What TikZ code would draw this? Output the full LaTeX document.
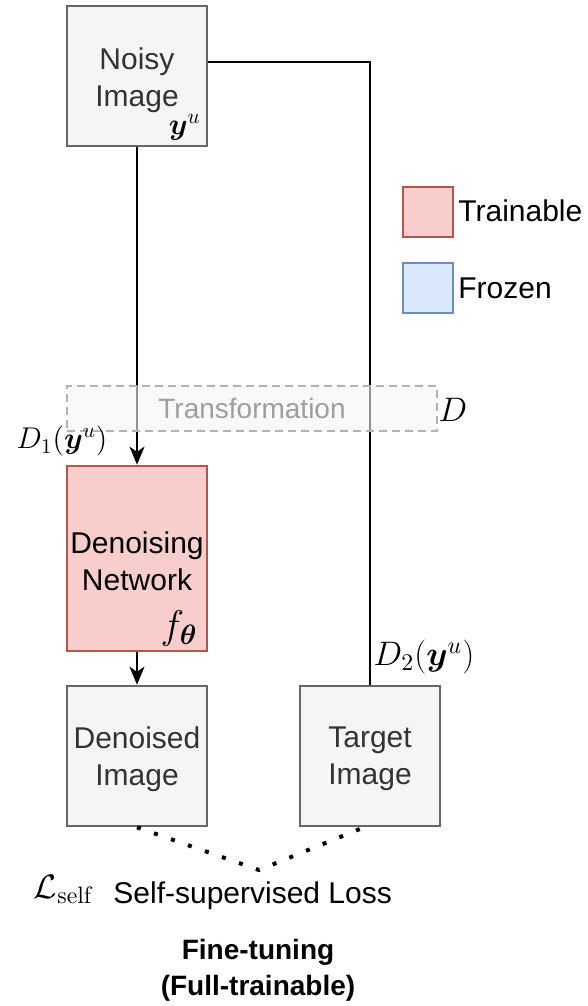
\RequirePackage{fix-cm}
\documentclass[tikz,border=0pt]{standalone}
\usepackage{amsmath}
\usepackage{bm}
\usepackage[no-math]{fontspec}
\setmainfont{Liberation Sans}
\usetikzlibrary{arrows.meta}

\definecolor{boxfill}{HTML}{F5F5F5}
\definecolor{boxline}{HTML}{666666}
\definecolor{boxtext}{HTML}{333333}
\definecolor{redfill}{HTML}{F8CECC}
\definecolor{redline}{HTML}{B85450}
\definecolor{bluefill}{HTML}{DAE8FC}
\definecolor{blueline}{HTML}{6C8EBF}
\definecolor{dashline}{HTML}{B3B3B3}
\definecolor{fadetext}{HTML}{9E9E9E}

\tikzset{
  txt/.style={font=\fontsize{15}{18.5}\selectfont, align=center, inner sep=0pt},
  imgbox/.style={draw=boxline, fill=boxfill, line width=1.3pt,
                 minimum width=70pt, minimum height=70pt, inner sep=0pt},
  netbox/.style={draw=redline, fill=redfill, line width=1.3pt,
                 minimum width=70pt, minimum height=92.5pt, inner sep=0pt},
  keybox/.style={draw=#1line, fill=#1fill, line width=1.3pt, minimum width=25pt,
                 minimum height=25pt, inner sep=0pt},
  conn/.style={line width=1pt, draw=black},
  arr/.style={conn, -{Stealth[length=9pt,width=7.5pt,inset=2.5pt]}},
  mathlbl/.style={inner sep=0pt, font=\fontsize{#1}{#1}\selectfont},
  mathlbl/.default=15,
}

\begin{document}
\begin{tikzpicture}[x=0.5pt, y=-0.5pt]
\useasboundingbox (0,0) rectangle (588,1006);

% image blocks (text set slightly below the centre)
\node[imgbox] (noisy) at (137,76) {};
\node[txt, text=boxtext] (noisytxt) at ([yshift=-2pt]noisy.center) {Noisy\\Image};
\node[netbox] (denoise) at (137,558.5) {};
\node[txt, text=black] (denoisetxt) at ([yshift=-1.5pt]denoise.center) {Denoising\\Network};
\node[imgbox] (denoised) at (137,756) {};
\node[txt, text=boxtext] (denoisedtxt) at ([yshift=-1.5pt]denoised.center) {Denoised\\Image};
\node[imgbox] (target) at (370,756) {};
\node[txt, text=boxtext] (targettxt) at ([yshift=-1.5pt]target.center) {Target\\Image};

% symbols inside blocks
\node[mathlbl, anchor=south east] (yu) at (201,141) {$\bm{y}^u$};
\node[mathlbl=20, anchor=south east] (ftheta) at (198,647) {$f_{\bm{\theta}}$};

% connections
\draw[arr] (noisy) -- (denoise);
\draw[arr] (denoise) -- (denoised);
\draw[conn] ([yshift=7pt]noisy.east) -| (target.north);

% transformation band, laid over the lines
\node[draw=dashline, fill=boxfill, fill opacity=0.6, text opacity=1, dash pattern=on 4pt off 2.5pt,
      line width=1pt, minimum width=185pt, minimum height=22.5pt, inner sep=0pt,
      text=fadetext, font=\fontsize{14}{17}\selectfont] (trans) at (252,408.5) {Transformation};
\node[mathlbl=17] (dlbl) at (453,410) {$D$};
\node[mathlbl] (d1) at (62,441) {$D_1(\bm{y}^u)$};
\node[mathlbl=17] (d2) at (424,657) {$D_2(\bm{y}^u)$};

% loss
\coordinate (lossv) at (259,870);
\draw[line width=2pt, dash pattern=on 2pt off 7pt] (denoised.south) -- (lossv) -- ([xshift=-3pt]target.south);
\node[mathlbl=17] (lself) at (64,889) {$\mathcal{L}_{\mathrm{self}}$};
\node[txt, anchor=west] (losstxt) at (113,896) {Self-supervised Loss};

% legend
\node[keybox=red] (ktrain) at (428,212) {};
\node[txt, anchor=west] (ltrain) at (458,211) {Trainable};
\node[keybox=blue] (kfrozen) at (428,288) {};
\node[txt, anchor=west] (lfrozen) at (458,288) {Frozen};

% caption
\node[txt, font=\bfseries\fontsize{14}{18}\selectfont] (caption) at (258,970) {Fine-tuning\\(Full-trainable)};
\end{tikzpicture}
\end{document}
